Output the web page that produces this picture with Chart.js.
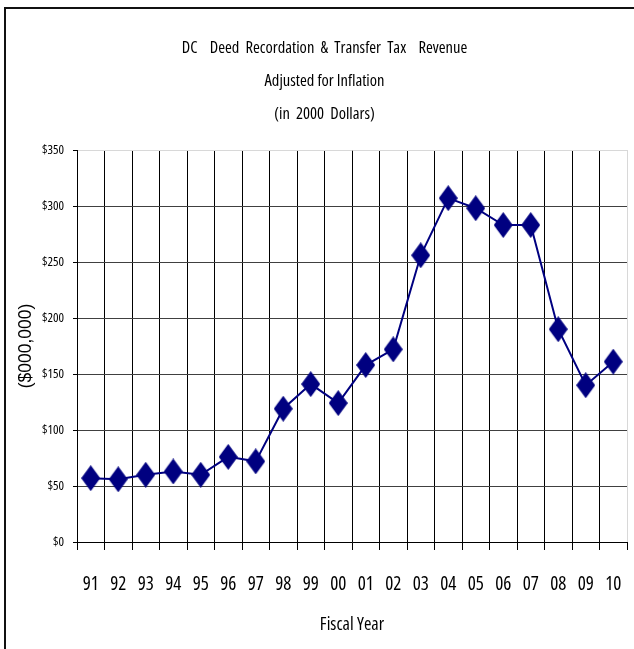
<!DOCTYPE html>
<html>
<head>
<meta charset="utf-8">
<title>DC Deed Recordation & Transfer Tax Revenue</title>
<script src="https://cdn.jsdelivr.net/npm/chart.js@4.4.1/dist/chart.umd.min.js"></script>
<style>
    html, body { margin: 0; padding: 0; background: #fff; overflow: hidden; }
    #wrap { position: relative; width: 634px; height: 649px; }
    #frame { position: absolute; left: 4px; top: 7px; width: 700px; height: 700px; border-left: 2px solid #111; border-top: 2px solid #111; }
    #revenueChart { position: absolute; left: 0; top: 0; }
</style>
</head>
<body>
<div id="wrap">
    <div id="frame"></div>
    <canvas id="revenueChart" width="634" height="649"></canvas>
</div>
<script>
// ==================== DATA ====================
const fiscalYears = ['91', '92', '93', '94', '95', '96', '97', '98', '99', '00',
                     '01', '02', '03', '04', '05', '06', '07', '08', '09', '10'];
// revenue in $000,000 (2000 dollars)
const revenue = [57, 56, 60, 63, 60, 76, 72, 119, 141, 124,
                 158, 172, 256, 307, 298, 283, 283, 190, 140, 161];
const yTicks = [0, 50, 100, 150, 200, 250, 300, 350];
// wide word gaps as in the original title
const titleLines = ['DC    Deed  Recordation  &  Transfer  Tax    Revenue', 'Adjusted for Inflation', '(in  2000  Dollars)'];

// Open Sans is variable here, so "condensed" gives a narrow face like the original
const NARROW = "'Open Sans', 'Liberation Sans', sans-serif";
const COND = 'condensed';
const NAVY = '#000080';

// tall diamond marker
function makeDiamond(w, h, color) {
    const c = document.createElement('canvas');
    c.width = w;
    c.height = h;
    const g = c.getContext('2d');
    g.fillStyle = color;
    g.beginPath();
    g.moveTo(w / 2, 0);
    g.lineTo(w, h / 2);
    g.lineTo(w / 2, h);
    g.lineTo(0, h / 2);
    g.closePath();
    g.fill();
    return c;
}

const diamond = makeDiamond(19, 26, NAVY);

const ctx = document.getElementById('revenueChart').getContext('2d');
new Chart(ctx, {
    type: 'line',
    data: {
        labels: fiscalYears,
        datasets: [{
            label: 'Revenue',
            data: revenue,
            borderColor: NAVY,
            backgroundColor: NAVY,
            borderWidth: 2,
            pointStyle: diamond,
            tension: 0,
            fill: false
        }]
    },
    options: {
        responsive: false,
        animation: false,
        // left padding pushes the title centre to the right like the original
        layout: { padding: { top: 0, left: 22, right: 7, bottom: 0 } },
        plugins: {
            legend: { display: false },
            tooltip: { enabled: false },
            title: {
                display: true,
                text: titleLines,
                color: '#000',
                font: { family: NARROW, size: 16.5, weight: COND, lineHeight: 33 / 16.5 },
                padding: { top: 32, bottom: 19 }
            }
        },
        scales: {
            x: {
                offset: true,
                grid: {
                    offset: true,
                    color: (c) => c.index === undefined ? '#d8d8d8' : '#000',
                    tickColor: '#000',
                    tickLength: 8,
                    lineWidth: 1
                },
                border: { color: '#000', width: 1 },
                ticks: {
                    color: '#000',
                    font: { family: NARROW, size: 19, weight: COND },
                    padding: 23,
                    maxRotation: 0,
                    autoSkip: false
                },
                title: {
                    display: true,
                    text: 'Fiscal Year',
                    color: '#000',
                    font: { family: NARROW, size: 18, weight: COND },
                    padding: { top: 0, bottom: 13 }
                },
                afterFit: (s) => {
                    s.height = 107;
                    s.paddingLeft = 0;
                    s.paddingRight = 0;
                }
            },
            y: {
                min: 0,
                max: 350,
                afterBuildTicks: (s) => { s.ticks = yTicks.map(v => ({ value: v })); },
                grid: {
                    color: (c) => (c.tick && c.tick.value === 350) ? '#d8d8d8' : '#404040',
                    tickColor: '#000',
                    tickLength: 4,
                    lineWidth: 1
                },
                border: { color: '#000', width: 1 },
                ticks: {
                    color: '#000',
                    font: { family: NARROW, size: 13, weight: COND },
                    padding: 9,
                    callback: (v) => '$' + v
                },
                title: {
                    display: true,
                    text: '($000,000)',
                    color: '#000',
                    font: { family: "'Liberation Sans', Arial, sans-serif", size: 17.5 },
                    padding: { top: -6, bottom: 0 }
                },
                afterFit: (s) => { s.width = 55; }
            }
        }
    }
});
</script>
</body>
</html>
